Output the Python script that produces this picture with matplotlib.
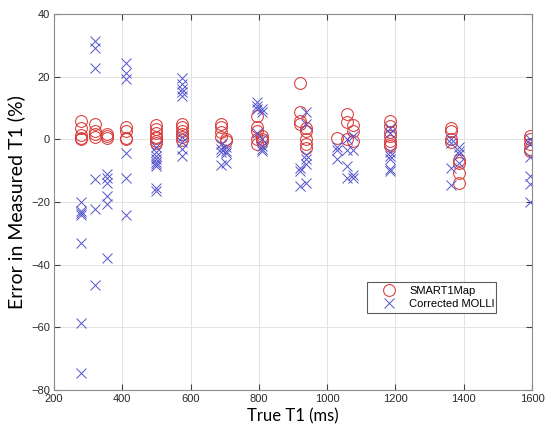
import matplotlib
matplotlib.use("Agg")
import matplotlib.pyplot as plt
from matplotlib.ticker import MultipleLocator

smart_t1 = [280, 320, 355, 410, 500, 575, 690, 705, 795, 810, 920, 937,
            1030, 1058, 1076, 1185, 1363, 1386, 1595]
smart_err = [
    [6, 3.5, 1.5, 0.5, 0],
    [4.8, 2.5, 1.6, 0.6],
    [1.6, 1.0, 0.5],
    [3.8, 2.5, 0.3, 0],
    [4.5, 3.2, 2.0, 0.8, 0.3, -0.6, -1.2],
    [4.8, 3.8, 2.8, 1.8, 0.8, -0.2],
    [5.0, 4.0, 2.3, 0.8],
    [0.2, -0.5],
    [7.4, 4.0, 2.5, 0, -1.5],
    [1.0, 0, -0.5],
    [18, 8.6, 6.0, 5.0],
    [3.5, 2.5, 0, -1.5, -2.8],
    [0.3],
    [8.0, 5.6, 0],
    [4.5, 2.7, -0.5],
    [5.8, 4.2, 2.4, 1.0, -0.5, -1.6, -2.2],
    [3.5, 2.5, 0, -1.0],
    [-6.5, -7.5, -10.6, -13.8],
    [1.0, 0, -1.5, -3.0, -3.8],
]

molli_t1 = [280, 320, 355, 410, 500, 575, 690, 705, 795, 810, 920, 937,
            1030, 1058, 1076, 1185, 1363, 1386, 1595]
molli_err = [
    [-20, -23, -23.6, -24, -33, -58.5, -74.5],
    [31.5, 29.1, 22.7, -12.6, -22.2, -46.6],
    [-11.2, -12.4, -14, -18.2, -20.6, -37.8],
    [24.5, 21.3, 19.3, -4.3, -12.2, -24],
    [-2.6, -4.2, -5.2, -6.2, -7.2, -8.0, -8.6, -15.5, -16.5],
    [19.6, 17.8, 16.2, 15.0, 13.8, 0.8, -1.0, -3.2, -5.2],
    [-1.6, -3.2, -4.0, -8.1],
    [-2.4, -3.8, -4.4, -7.5],
    [11.8, 10.6, 9.6, 2.0],
    [9.6, 8.6, 0, -2.2, -3.2, -3.8],
    [-9.0, -10.1, -15.0],
    [8.6, 4.8, -5.0, -6.4, -8.0, -13.8],
    [-2.6, -3.3, -6.2],
    [0, -3.5, -8.5, -12.2],
    [1.0, -3.5, -11.3, -12.2],
    [3.6, 2.0, -4.0, -5.3, -6.2, -9.6, -10.2],
    [0, -1.2, -9.0, -14.6],
    [-2.6, -3.7, -4.7, -7.4],
    [0, -1.5, -5.6, -11.6, -14.2, -20],
]

# Expandindo os grupos em listas de pontos
xs_smart = [t for t, errs in zip(smart_t1, smart_err) for _ in errs]
ys_smart = [e for errs in smart_err for e in errs]
xs_molli = [t for t, errs in zip(molli_t1, molli_err) for _ in errs]
ys_molli = [e for errs in molli_err for e in errs]

plt.rcParams["font.family"] = ["Liberation Sans", "DejaVu Sans"]

fig = plt.figure(figsize=(5.48, 4.30), dpi=100)
ax = fig.add_axes([54 / 548, 1 - 390 / 430, (532 - 54) / 548, (390 - 14) / 430])

# Séries de dados
ax.plot(xs_smart, ys_smart, "o", mfc="none", mec="#d83a3a", mew=0.75, markersize=8.5,
        label="SMART1Map")
ax.plot(xs_molli, ys_molli, "x", color="#5454cc", mew=0.7, markersize=7,
        label="Corrected MOLLI")

# Eixos
ax.set_xlim(200, 1600)
ax.set_ylim(-80, 40)
ax.xaxis.set_major_locator(MultipleLocator(200))
ax.yaxis.set_major_locator(MultipleLocator(20))
ax.tick_params(direction="in", top=True, right=True, labelsize=8, length=4,
               color="#404040", labelcolor="#2a2a2a", pad=3)
for spine in ax.spines.values():
    spine.set_color("#8c8c8c")
    spine.set_linewidth(0.8)
ax.grid(color="#e3e3e3", linewidth=0.7)
ax.set_axisbelow(True)

ax.set_xlabel("True T1 (ms)", fontsize=12, family=["Lato", "DejaVu Sans"], labelpad=3)
ax.set_ylabel("Error in Measured T1 (%)", fontsize=14, family=["Lato", "DejaVu Sans"],
              labelpad=4)

# Legenda
leg = ax.legend(loc="lower left", bbox_to_anchor=(367 / 548, 1 - 313 / 430, 129 / 548, 34 / 430),
                bbox_transform=fig.transFigure, mode="expand", fontsize=8, frameon=True,
                fancybox=False, edgecolor="#333333", borderpad=0.4, handlelength=3.2,
                handletextpad=0.2, labelspacing=0.2, borderaxespad=0)
leg.get_frame().set_linewidth(0.8)

fig.savefig("out.png", dpi=100)
plt.close(fig)
